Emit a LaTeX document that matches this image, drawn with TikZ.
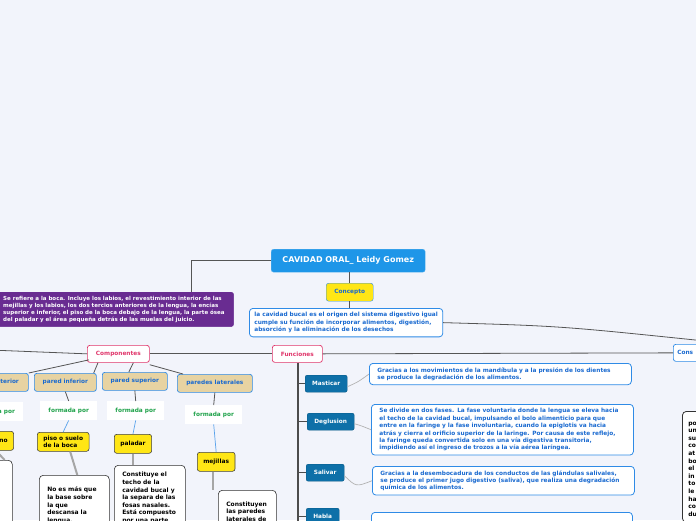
\documentclass[tikz,border=0pt]{standalone}
\usepackage{fontspec}
\setmainfont{DejaVu Sans}
\usetikzlibrary{positioning,calc}
\definecolor{fondo}{HTML}{F2F4FB}
\definecolor{titulo}{HTML}{1E96E8}
\definecolor{morado}{HTML}{692C91}
\definecolor{amarillo}{HTML}{FFE615}
\definecolor{azul}{HTML}{2F8BE6}
\definecolor{azultxt}{HTML}{1A6AD0}
\definecolor{rosa}{HTML}{E0356A}
\definecolor{arena}{HTML}{E7D3A2}
\definecolor{verde}{HTML}{1FA24A}
\definecolor{funcazul}{HTML}{0E70A8}
\definecolor{linea}{HTML}{555555}
\tikzset{
  % nodos
  central/.style={fill=titulo,draw=titulo!70!white,rounded corners=2.5pt,text=white,
    font=\fontsize{8}{9}\selectfont\bfseries,anchor=north west,inner sep=0pt,
    minimum width=154pt,minimum height=23pt},
  nota/.style={fill=morado,draw=morado,rounded corners=2.5pt,text=white,
    font=\fontsize{5.5}{7}\selectfont\bfseries,anchor=north west,align=left,
    inner xsep=9pt,inner ysep=4pt},
  etiq/.style={fill=amarillo,draw=azul,rounded corners=2.5pt,text=azultxt,
    font=\fontsize{5.8}{7}\selectfont\bfseries,anchor=north west,inner sep=0pt,
    minimum width=47pt,minimum height=18pt},
  desc/.style={fill=white,draw=azul,line width=0.8pt,rounded corners=3.5pt,text=azultxt,
    font=\fontsize{5.8}{7.4}\selectfont\bfseries,anchor=north west,align=left,
    inner xsep=8pt,inner ysep=4pt},
  tema/.style={fill=white,draw=rosa,line width=0.7pt,rounded corners=2.5pt,text=rosa,
    font=\fontsize{5.8}{7}\selectfont\bfseries,anchor=north west,inner sep=0pt,
    minimum height=17pt},
  pared/.style={fill=arena,draw=azul,line width=0.7pt,rounded corners=2.5pt,text=azultxt,
    font=\fontsize{5.8}{7}\selectfont\bfseries,anchor=north west,inner sep=0pt,
    minimum height=18pt},
  fpor/.style={fill=white,text=verde,font=\fontsize{5.8}{7}\selectfont\bfseries,
    anchor=north west,inner sep=0pt,minimum width=57pt,minimum height=19pt},
  hoja/.style={fill=amarillo,draw=black!75,line width=0.6pt,rounded corners=2.5pt,text=black,
    font=\fontsize{5.9}{7.6}\selectfont\bfseries,anchor=north west,align=left,
    inner xsep=6pt,inner ysep=3pt,minimum height=19pt},
  texto/.style={fill=white,draw=black!80,line width=0.6pt,rounded corners=4pt,text=black,
    font=\fontsize{6}{7.6}\selectfont\bfseries,anchor=north west,align=left,
    inner xsep=8pt,inner ysep=7pt},
  func/.style={fill=funcazul,draw=funcazul!80!black,rounded corners=2pt,text=white,
    font=\fontsize{5.8}{7}\selectfont\bfseries,anchor=north west,inner sep=0pt,
    minimum height=17pt},
  % conectores
  link/.style={draw=linea,line width=0.8pt},
  tronco/.style={draw=linea!90!black,line width=1.6pt},
  azulink/.style={draw=azul!80,line width=0.7pt},
  gris/.style={draw=black!35,line width=2pt},
  suave/.style={draw=black!30,line width=0.7pt},
}
\begin{document}
\begin{tikzpicture}[x=1pt,y=-1pt]
\useasboundingbox (0,0) rectangle (696,520);
\fill[fondo] (0,0) rectangle (696,520);
\begin{scope}
\clip (0,0) rectangle (696,520);
% centro
\node[central] (raiz) at (271,249) {CAVIDAD ORAL\_ Leidy Gomez};
\node[nota] (def) at (-6,292) {Se refiere a la boca. Incluye los labios, el revestimiento interior de las\\
mejillas y los labios, los dos tercios anteriores de la lengua, la encías\\
superior e inferior, el piso de la boca debajo de la lengua, la parte ósea\\
del paladar y el área pequeña detrás de las muelas del juicio.};
\coordinate (defjoin) at (191,292);
\draw[link] (raiz.west) -| (defjoin);
\node[etiq] (concepto) at (326,283) {Concepto};
\node[desc,inner xsep=5pt] (cdesc) at (249,308) {la cavidad bucal es el origen del sistema digestivo igual\\
cumple su función de incorporar alimentos, digestión,\\
absorción y la eliminación de los desechos};
\draw[link] (raiz.south -| concepto.north) -- (concepto.north);
\draw[link] (concepto.south) -- (concepto.south |- cdesc.north);
\coordinate (derecha) at (705,341);
\draw[link] (cdesc.east) .. controls (560,326) .. (derecha);
% temas
\node[tema,minimum width=62pt] (comp) at (87,345) {Componentes};
\node[tema,minimum width=50pt] (funciones) at (272,345) {Funciones};
\node[tema,draw=azul,text=azultxt,minimum width=60pt,align=left,text width=52pt] (cons) at (673,344) {Cons};
\coordinate (izq) at (-10,350);
\draw[link] (izq) -- (comp.west);
\draw[link] (comp.east) -- (funciones.west);
\draw[link] (funciones.east) -- (cons.west);
% componentes
\node[pared,minimum width=70pt] (post) at (-42,373) {pared posterior};
\node[pared,minimum width=62pt] (inf) at (34,373) {pared inferior};
\node[pared,minimum width=65pt] (sup) at (102,372) {pared superior};
\node[pared,minimum width=75pt] (lat) at (177,374) {paredes laterales};
\draw[link] ($(comp.west)+(2,6)$) -- (post.north east);
\draw[link] ($(comp.south west)+(11,0)$) -- ($(inf.north east)+(-3,0)$);
\draw[link] ($(comp.south)+(15,0)$) -- ($(sup.north)+(-6,0)$);
\draw[link] ($(comp.south east)+(0,2)$) -- ($(lat.north west)+(6,0)$);
\node[fpor] (fp0) at (-34,402) {formada por};
\node[fpor] (fp1) at (40,401) {formada por};
\node[fpor] (fp2) at (107,401) {formada por};
\node[fpor] (fp3) at (185,405) {formada por};
\foreach \a/\b in {post/fp0,inf/fp1,sup/fp2,lat/fp3}
  \draw[link] (\a.south) -- (\b.north);
\node[hoja] (h0) at (-42,431) {velo palatino};
\node[hoja] (h1) at (37,432) {piso o suelo\\de la boca};
\node[hoja] (h2) at (114,434) {paladar};
\node[hoja] (h3) at (197,452) {mejillas};
\foreach \a/\b in {fp0/h0,fp1/h1,fp2/h2,fp3/h3}
  \draw[azulink] (\a.south) -- (\b.north);
\node[texto,minimum width=60pt,minimum height=70pt,align=right] (t0) at (-48,460) {\\[2pt]a\\ \\e\\ \\2};
\node[texto,text width=54pt,minimum height=60pt] (t1) at (39,475) {No es más que\\la base sobre\\la que\\descansa la\\lengua.};
\node[texto,text width=55pt] (t2) at (114,465) {Constituye el\\techo de la\\cavidad bucal y\\la separa de las\\fosas nasales.\\Está compuesto\\por una parte};
\node[texto,text width=42pt,minimum height=50pt] (t3) at (218,490) {Constituyen\\las paredes\\laterales de\\la boca};
\draw[gris] ($(h0.south)+(10,0)$) -- ($(t0.north east)+(-8,0)$);
\draw[gris] ($(h1.south)+(7,0)$) -- ($(t1.north)+(3,0)$);
\draw[gris] (h2.south) -- (h2.south |- t2.north);
\draw[gris] ($(h3.south)+(-3,0)$) -- ($(h3.south |- t3.north)+(-3,0)$);
% funciones
\coordinate (fin) at (298,530);
\draw[tronco] (funciones.south -| fin) -- (fin);
\node[func,minimum width=42pt] (mast) at (305,375) {Masticar};
\node[func,minimum width=47pt] (degl) at (307,413) {Deglusion};
\node[func,minimum width=38pt] (sal) at (306,464) {Salivar};
\node[func,minimum width=33pt] (habla) at (306,508) {Habla};
\foreach \f in {mast,degl,sal,habla}
  \draw[tronco,line width=1pt] (\f.west -| fin) -- (\f.west);
\node[desc,text width=246pt] (dmast) at (369,363) {Gracias a los movimientos de la mandíbula y a la presión de los dientes\\
se produce la degradación de los alimentos.};
\node[desc,text width=246pt] (ddegl) at (371,404) {Se divide en dos fases. La fase voluntaria donde la lengua se eleva hacia\\
el techo de la cavidad bucal, impulsando el bolo alimenticio para que\\
entre en la faringe y la fase involuntaria, cuando la epiglotis va hacia\\
atrás y cierra el orificio superior de la laringe. Por causa de este reflejo,\\
la faringe queda convertida solo en una vía digestiva transitoria,\\
impidiendo así el ingreso de trozos a la vía aérea laríngea.};
\node[desc,text width=246pt] (dsal) at (372,466) {Gracias a la desembocadura de los conductos de las glándulas salivales,\\
se produce el primer jugo digestivo (saliva), que realiza una degradación\\
química de los alimentos.};
\node[desc,text width=245pt,minimum height=24pt] (dhabla) at (371,512) {};
\draw[suave] ($(mast.east)+(0,3)$) .. controls (358,382) .. (dmast.west);
\draw[suave] ($(degl.east)+(0,2)$) .. controls (362,426) .. (ddegl.west);
\draw[suave] ($(sal.east)+(0,3)$) .. controls (356,487) .. (dsal.west);
% derecha
\node[texto,text width=40pt,align=left,inner xsep=6pt,inner ysep=6pt,line width=0.8pt] (tder) at (682,411) {\\po\\un\\su\\co\\at\\bo\\el\\in\\to\\le\\ha\\co\\du};
\end{scope}
\end{tikzpicture}
\end{document}
